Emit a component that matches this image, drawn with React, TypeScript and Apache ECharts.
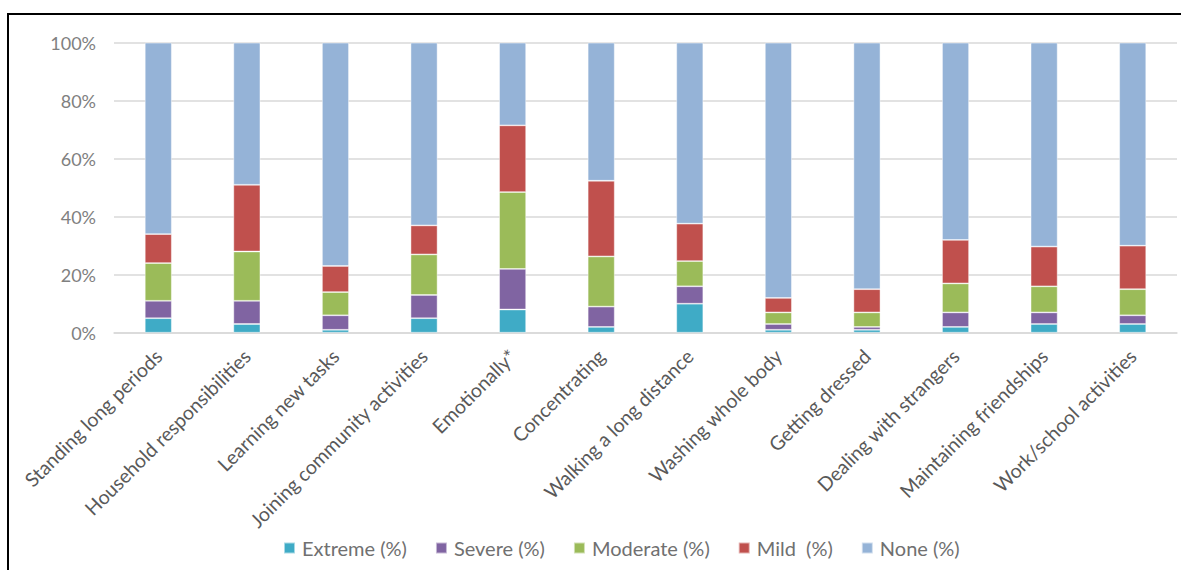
import React, { useEffect, useRef } from "react";
import * as echarts from "echarts";

const categories = [
  "Standing long periods",
  "Household responsibilities",
  "Learning new tasks",
  "Joining community activities",
  "Emotionally*",
  "Concentrating",
  "Walking a long distance",
  "Washing whole body",
  "Getting dressed",
  "Dealing with strangers",
  "Maintaining friendships",
  "Work/school activities",
];

const extreme = [5, 3, 1, 5, 8, 2, 10, 1, 1, 2, 3, 3];
const severe = [6, 8, 5, 8, 14, 7, 6, 2, 1, 5, 4, 3];
const moderate = [13, 17, 8, 14, 26.5, 17.3, 8.7, 4, 5, 10, 9, 9];
const mild = [10, 23, 9, 10, 23, 26.1, 12.9, 5, 8, 15, 13.7, 15];
const none = [66, 49, 77, 63, 28.5, 47.6, 62.4, 88, 85, 68, 70.3, 70];

const seriesNames = ["Extreme (%)", "Severe (%)", "Moderate (%)", "Mild  (%)", "None (%)"];
const seriesData = [extreme, severe, moderate, mild, none];
const colors = ["#3FABC6", "#8064A2", "#9BBB59", "#C0504D", "#95B3D7"];

const FONT = "Lato";

export default function App() {
  const ref = useRef<HTMLDivElement>(null);

  useEffect(() => {
    if (!ref.current) return;
    const chart = echarts.init(ref.current, undefined, { renderer: "svg" });
    chart.setOption({
      animation: false,
      textStyle: { fontFamily: FONT },
      grid: { left: 114, right: 4, top: 42.7, bottom: 237.3, containLabel: false },
      legend: {
        left: 278,
        top: 533,
        itemWidth: 11,
        itemHeight: 11,
        itemGap: 28,
        icon: "rect",
        textStyle: { fontFamily: FONT, fontSize: 20, color: "#707070", padding: [0, 0, 0, 2] },
        data: seriesNames,
      },
      xAxis: {
        type: "category",
        data: categories,
        axisLine: { lineStyle: { color: "#d9d9d9", width: 1.5 } },
        axisTick: { show: false },
        axisLabel: {
          rotate: 45,
          interval: 0,
          margin: 20,
          fontFamily: FONT,
          fontSize: 19.5,
          color: "#595959",
        },
      },
      yAxis: {
        type: "value",
        min: 0,
        max: 100,
        interval: 20,
        axisLine: { show: false },
        axisTick: { show: false },
        splitLine: { lineStyle: { color: "#d9d9d9", width: 1.5 } },
        axisLabel: {
          formatter: "{value}%",
          margin: 18,
          fontFamily: FONT,
          fontSize: 18,
          color: "#808080",
        },
      },
      series: seriesData.map((d, i) => ({
        name: seriesNames[i],
        type: "bar",
        stack: "total",
        barWidth: 27,
        data: d,
        itemStyle: {
          color: colors[i],
          borderColor: "rgba(255,255,255,0.55)",
          borderWidth: 0.8,
        },
      })),
    });
    return () => chart.dispose();
  }, []);

  return (
    <div style={{ position: "absolute", left: 0, top: 0, width: 1181, height: 570, overflow: "hidden", background: "#fff" }}>
      <div
        style={{
          position: "absolute",
          left: 7,
          top: 13,
          width: 1300,
          height: 700,
          borderTop: "2px solid #000",
          borderLeft: "2px solid #000",
        }}
      />
      <div ref={ref} style={{ position: "absolute", left: 0, top: 0, width: 1181, height: 570 }} />
    </div>
  );
}
